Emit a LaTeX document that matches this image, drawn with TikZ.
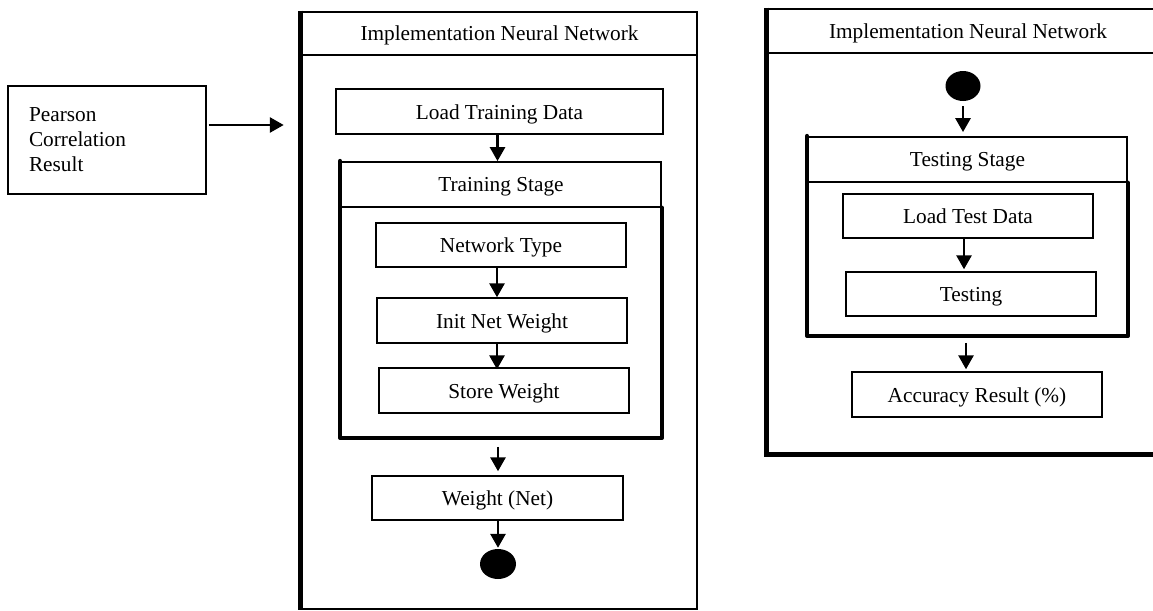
\documentclass[tikz,border=0pt]{standalone}
\usepackage{fontspec}
\setmainfont{Liberation Serif}
\usetikzlibrary{arrows.meta,shapes.geometric}
\tikzset{
  pbox/.style={draw, line width=1.4pt, rectangle, inner sep=0pt, font=\fontsize{21.3}{25}\selectfont},
  box/.style={pbox, text height=15pt, text depth=0pt},
  frame/.style={draw, line width=2.5pt, rectangle, inner sep=0pt},
  hdr/.style={draw, line width=1.8pt, rectangle, inner sep=0pt, font=\fontsize{21.3}{25}\selectfont, text height=14.5pt, text depth=0pt},
  stagebox/.style={draw, line width=1.8pt, rectangle, inner sep=0pt},
  thickedge/.style={line width=4.5pt, line cap=round, line join=round},
  dot/.style={ellipse, fill=black, draw=none, inner sep=0pt, minimum width=35pt, minimum height=30pt},
  arr/.style={line width=2.8pt, -{Triangle[length=14pt,width=15pt]}},
}
\begin{document}
\begin{tikzpicture}[x=1pt,y=-1pt]
\useasboundingbox (0,0) rectangle (1153,610);
\clip (0,0) rectangle (1153,610);
\fill[white] (0,0) rectangle (1153,610);

% Pearson box
\node[pbox, minimum width=198pt, minimum height=108pt, text width=156pt, align=left, inner xsep=21pt] (pearson) at (107,140) {Pearson\\Correlation\\Result\\[4pt]};

% Left frame
\node[frame, minimum width=395pt, minimum height=597pt] (frame1) at (499.5,310.5) {};
\draw[line width=5pt] (frame1.north west) -- (frame1.south west);
\node[hdr, minimum width=395pt, minimum height=43pt] (title1) at (499.5,33.5) {Implementation Neural Network};

\coordinate (pa) at ([yshift=15pt]pearson.east);
\draw[arr, shorten <=2pt, shorten >=17pt] (pa) -- (pa -| frame1.west);

\node[box, minimum width=327pt, minimum height=45pt] (ltd) at (499.5,111.5) {Load Training Data};

\node[stagebox, minimum width=320pt, minimum height=275pt] (stage1) at (501,299.5) {};
\node[hdr, minimum width=320pt, minimum height=45pt] (stage1hdr) at (501,184.5) {Training Stage};
\draw[thickedge] (stage1.north west) -- (stage1.south west) -- (stage1.south east) -- (stage1hdr.south east);

\node[box, minimum width=250pt, minimum height=44pt] (nt) at (501,245) {Network Type};
\node[box, minimum width=250pt, minimum height=45pt] (inw) at (502,320.5) {Init Net Weight};
\node[box, minimum width=250pt, minimum height=45pt] (sw) at (504,390.5) {Store Weight};
\node[box, minimum width=251pt, minimum height=44pt] (wn) at (497.5,498) {Weight (Net)};
\node[dot, minimum width=36pt] (end1) at (498,564) {};

\draw[arr] ([xshift=-2pt]ltd.south) -- ([xshift=-2pt]ltd.south |- stage1.north);
\draw[arr] ([xshift=-4pt]nt.south) -- ([xshift=-4pt]nt.south |- inw.north);
\draw[arr, shorten >=-2pt] ([xshift=-5pt]inw.south) -- ([xshift=-5pt]inw.south |- sw.north);
\draw[arr, shorten <=9pt, shorten >=4pt] ([xshift=-3pt]stage1.south) -- ([xshift=-3pt]stage1.south |- wn.north);
\draw[arr, shorten >=1pt] ([xshift=0.5pt]wn.south) -- (end1.north);

% Right frame
\node[frame, minimum width=400pt, minimum height=444pt] (frame2) at (968,231) {};
\draw[line width=5pt] (frame2.north west) -- (frame2.south west) -- (frame2.south east);
\node[hdr, minimum width=400pt, minimum height=44pt] (title2) at (968,31) {Implementation Neural Network};

\node[dot] (start2) at (963,86) {};
\node[stagebox, minimum width=319pt, minimum height=198pt] (stage2) at (967.5,236) {};
\node[hdr, minimum width=319pt, minimum height=45pt] (stage2hdr) at (967.5,159.5) {Testing Stage};
\draw[thickedge] (stage2.north west) -- (stage2.south west) -- (stage2.south east) -- (stage2hdr.south east);

\node[box, minimum width=250pt, minimum height=44pt] (ltd2) at (968,216) {Load Test Data};
\node[box, minimum width=250pt, minimum height=44pt] (tst) at (971,294) {Testing};
\node[box, minimum width=250pt, minimum height=45pt] (acc) at (977,394.5) {Accuracy Result (\%)};

\draw[arr, shorten <=5pt, shorten >=4pt] (start2.south) -- (start2.south |- stage2.north);
\draw[arr, shorten >=2pt] ([xshift=-4pt]ltd2.south) -- ([xshift=-4pt]ltd2.south |- tst.north);
\draw[arr, shorten <=7pt, shorten >=2pt] ([xshift=-1.5pt]stage2.south) -- ([xshift=-1.5pt]stage2.south |- acc.north);
\end{tikzpicture}
\end{document}
